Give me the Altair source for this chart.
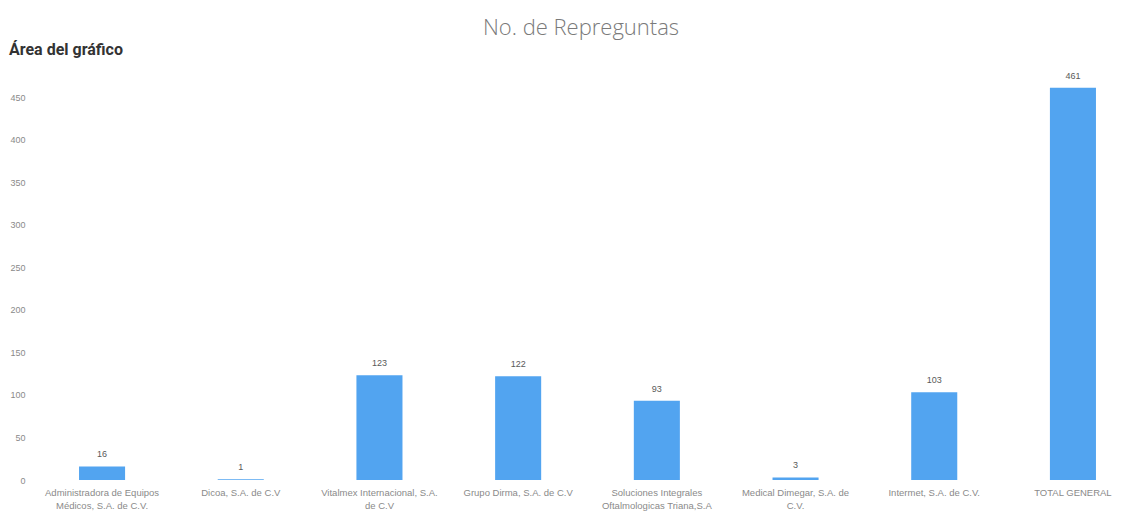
import altair as alt
import pandas as pd

categories = [
    "Administradora de Equipos|Médicos, S.A. de C.V.",
    "Dicoa, S.A. de C.V",
    "Vitalmex Internacional, S.A.|de C.V",
    "Grupo Dirma, S.A. de C.V",
    "Soluciones Integrales|Oftalmologicas Triana,S.A",
    "Medical Dimegar, S.A. de|C.V.",
    "Intermet, S.A. de C.V.",
    "TOTAL GENERAL",
]
values = [16, 1, 123, 122, 93, 3, 103, 461]
y_ticks = [0, 50, 100, 150, 200, 250, 300, 350, 400, 450]
chart_title = "No. de Repreguntas"
area_label = "Área del gráfico"

df = pd.DataFrame({"cat": categories, "val": values})

x_enc = alt.X(
    "cat:N",
    sort=categories,
    title=None,
    scale=alt.Scale(paddingInner=0.668, paddingOuter=0.094),
    axis=alt.Axis(
        labelExpr="split(datum.label, '|')",
        labelAngle=0,
        labelFontSize=9.5,
        labelColor="#8a8a8a",
        labelFont="Liberation Sans",
        labelLineHeight=13,
        labelPadding=7,
        labelLimit=200,
        labelOverlap=False,
        labelBound=False,
        ticks=False,
        tickSize=0,
        domain=False,
        grid=False,
    ),
)
y_enc = alt.Y(
    "val:Q",
    title=None,
    scale=alt.Scale(domain=[0, 470], nice=False),
    axis=alt.Axis(
        values=y_ticks,
        labelFontSize=9,
        labelColor="#8a8a8a",
        labelFont="Liberation Sans",
        labelPadding=41,
        ticks=False,
        tickSize=0,
        domain=False,
        grid=False,
    ),
)

bars = alt.Chart(df).mark_bar(color="#52A4F0").encode(x=x_enc, y=y_enc)

labels = alt.Chart(df).mark_text(
    dy=-7, fontSize=9, color="#595959", font="Liberation Sans", baseline="bottom"
).encode(x=alt.X("cat:N", sort=categories), y="val:Q", text="val:Q")

title_df = pd.DataFrame({"t": [chart_title]})
title_mark = alt.Chart(title_df).mark_text(
    fontSize=22, fontWeight=300, color="#7a7a7a", font="Open Sans", align="center", baseline="middle"
).encode(x=alt.value(515), y=alt.value(-52), text="t:N")

area_df = pd.DataFrame({"t": [area_label]})
area_mark = alt.Chart(area_df).mark_text(
    fontSize=16, fontWeight="bold", color="#333333", font="Roboto", align="left", baseline="middle"
).encode(x=alt.value(-57), y=alt.value(-30), text="t:N")

chart = (
    alt.layer(bars, labels, title_mark, area_mark)
    .properties(
        width=1043,
        height=400,
        autosize=alt.AutoSizeParams(type="none"),
        padding={"left": 58, "top": 72, "right": 4, "bottom": 36},
        background="white",
    )
    .configure_view(stroke=None)
)

chart.save("out.html", embed_options={"renderer": "svg", "actions": False})
